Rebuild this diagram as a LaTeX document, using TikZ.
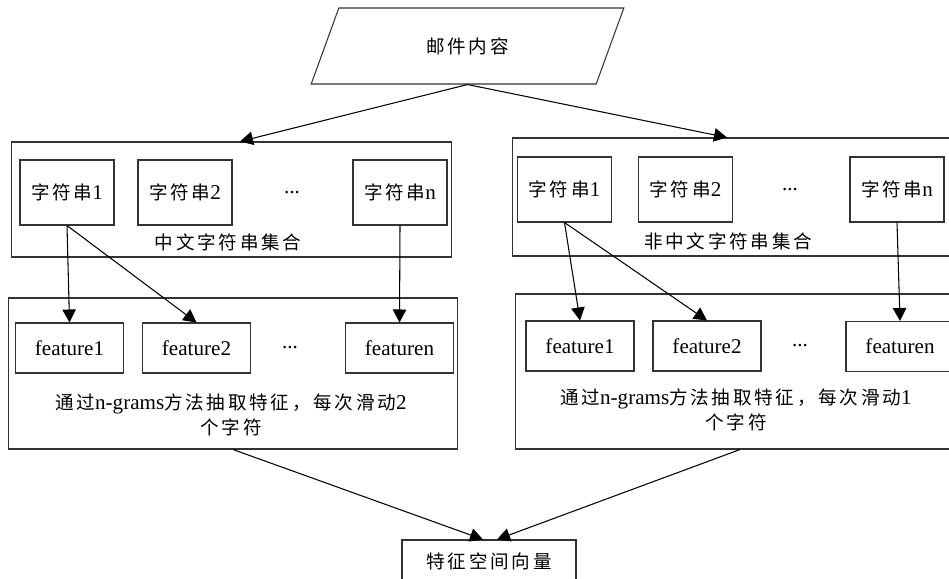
\documentclass[tikz,border=0pt]{standalone}
\usepackage{fontspec}
\setmainfont{Liberation Serif}
\newfontfamily\cjk[Scale=0.88, LetterSpace=15]{Noto Sans CJK SC}
\usetikzlibrary{arrows.meta,shapes.geometric}

\tikzset{
  strbox/.style={draw=black!80, line width=0.6pt, minimum width=1.88cm, minimum height=1.3cm, inner sep=0pt},
  featbox/.style={draw=black!80, line width=0.6pt, minimum width=2.16cm, minimum height=1.0cm, inner sep=0pt},
  groupbox/.style={draw=black!80, line width=0.6pt, inner sep=0pt},
  arr/.style={-{Triangle[length=0.26cm,width=0.27cm]}, line width=0.6pt},
}

\begin{document}
\begin{tikzpicture}[x=0.02cm, y=-0.02cm, font=\fontsize{12pt}{14pt}\selectfont]
  \useasboundingbox (0,0) rectangle (949,578);
  \clip (0,0) rectangle (949,578);

  % input
  \node[trapezium, draw=black!80, line width=0.6pt, trapezium left angle=62.8, trapezium right angle=117.2,
        trapezium stretches=true, minimum width=6.26cm, minimum height=1.52cm, inner sep=0pt] (mail) at (467.5,46) {\cjk 邮件内容};

  % string sets
  \node[groupbox, minimum width=8.82cm, minimum height=2.3cm] (zhset) at (231.5,199.5) {};
  \node[strbox] (zh1) at (67,192.5) {{\cjk 字符串}1};
  \node[strbox] (zh2) at (185,192.5) {{\cjk 字符串}2};
  \node (zhdots) at (292,193) {...};
  \node[strbox] (zhn) at (400,192.5) {{\cjk 字符串}n};
  \node (zhname) at (228,242) {\cjk 中文字符串集合};

  \node[groupbox, minimum width=8.88cm, minimum height=2.36cm] (enset) at (734,197) {};
  \node[strbox] (en1) at (564.5,189.5) {{\cjk 字符串}1};
  \node[strbox] (en2) at (685.5,189.5) {{\cjk 字符串}2};
  \node (endots) at (790,190) {...};
  \node[strbox] (enn) at (897,189.5) {{\cjk 字符串}n};
  \node (enname) at (728,241) {\cjk 非中文字符串集合};

  % n-gram features
  \node[groupbox, minimum width=9cm, minimum height=3.02cm] (zhgram) at (233,373.5) {};
  \node[featbox] (zhf1) at (69.5,348) {feature1};
  \node[featbox] (zhf2) at (196.5,348) {feature2};
  \node (zhfdots) at (290,348) {...};
  \node[featbox] (zhfn) at (399.5,348) {featuren};
  \node[align=center] (zhnote) at (231,415) {{\cjk 通过}n-grams{\cjk 方法抽取特征，每次滑动}2\\{\cjk 个字符}};

  \node[groupbox, minimum width=9cm, minimum height=3.1cm] (engram) at (740,371.5) {};
  \node[featbox] (enf1) at (580,346) {feature1};
  \node[featbox] (enf2) at (707,346) {feature2};
  \node (enfdots) at (800,346) {...};
  \node[featbox] (enfn) at (900,346.5) {featuren};
  \node[align=center] (ennote) at (736,410) {{\cjk 通过}n-grams{\cjk 方法抽取特征，每次滑动}1\\{\cjk 个字符}};

  % output
  \node[groupbox, minimum width=3.48cm, minimum height=0.84cm] (vec) at (489,561) {\cjk 特征空间向量};

  \draw[arr] (mail.south) -- ([xshift=0.17cm]zhset.north);
  \draw[arr] (mail.south) -- ([xshift=-0.14cm]enset.north);

  \draw[arr] (zh1.south) -- (zhf1.north);
  \draw[arr] (zh1.south) -- (zhf2.north);
  \draw[arr] (zhn.south) -- (zhfn.north);
  \draw[arr] (en1.south) -- (enf1.north);
  \draw[arr] (en1.south) -- (enf2.north);
  \draw[arr] (enn.south) -- (enfn.north);

  \draw[arr] (zhgram.south) -- ([xshift=-0.12cm]vec.north);
  \draw[arr] (engram.south) -- ([xshift=0.16cm]vec.north);
\end{tikzpicture}
\end{document}
